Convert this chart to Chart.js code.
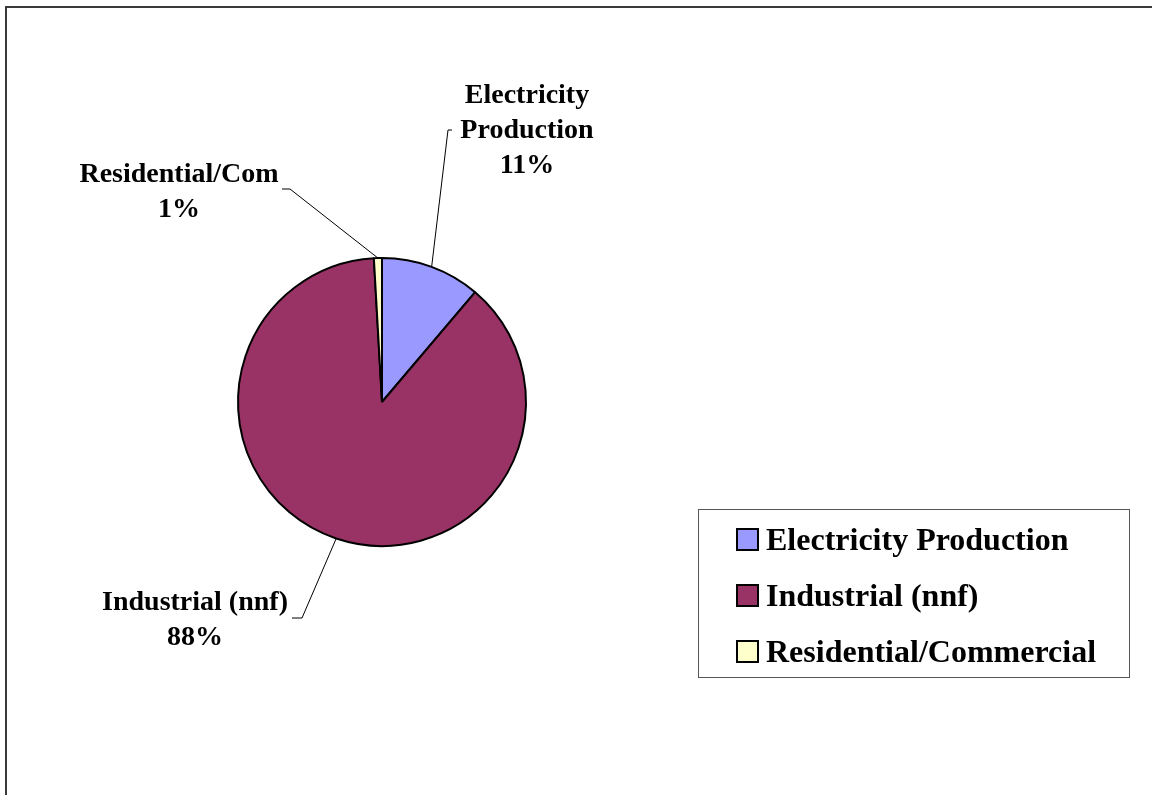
<!DOCTYPE html>
<html>
<head>
  <title>Pie chart</title>
  <script src="https://cdn.jsdelivr.net/npm/chart.js"></script>
  <style>
    body { margin: 0; background: #fff; }
  </style>
</head>
<body>
  <canvas id="chart" width="1152" height="795"></canvas>
  <script>
    // data
    const categories = ['Electricity Production', 'Industrial (nnf)', 'Residential/Commercial'];
    const shortNames = [['Electricity', 'Production'], ['Industrial (nnf)'], ['Residential/Com']];
    const shares = [11.2, 87.9, 0.9];
    const sliceColors = ['#9999FF', '#993366', '#FFFFCC'];

    // where each data label sits, relative to the pie centre (px)
    const labelPlace = [
      { tx: 145, ty: -299, elbow: [66, -272], end: [70, -272] },
      { tx: -187, ty: 208, elbow: [-80, 216], end: [-90, 216] },
      { tx: -203, ty: -220, elbow: [-92, -213], end: [-100, -213] }
    ];

    const serif = '"Liberation Serif", "Times New Roman", serif';

    // frame, data labels with leader lines and the boxed legend
    const decor = {
      id: 'decor',
      beforeDraw(chart) {
        const c = chart.ctx;
        c.save();
        c.strokeStyle = '#3a3a3a';
        c.lineWidth = 2;
        c.beginPath();
        c.moveTo(6, 795);
        c.lineTo(6, 7);
        c.lineTo(1152, 7);
        c.stroke();
        c.restore();
      },
      afterDraw(chart) {
        const c = chart.ctx;
        const arcs = chart.getDatasetMeta(0).data;
        const total = shares.reduce((a, b) => a + b, 0);
        c.save();
        c.font = 'bold 28px ' + serif;
        c.fillStyle = '#000';
        c.textAlign = 'center';
        c.textBaseline = 'alphabetic';
        arcs.forEach((arc, i) => {
          const p = arc.getProps(['x', 'y', 'startAngle', 'endAngle', 'outerRadius'], true);
          const mid = (p.startAngle + p.endAngle) / 2;
          const sx = p.x + Math.cos(mid) * p.outerRadius;
          const sy = p.y + Math.sin(mid) * p.outerRadius;
          const lp = labelPlace[i];
          c.strokeStyle = '#000';
          c.lineWidth = 1;
          c.beginPath();
          c.moveTo(sx, sy);
          c.lineTo(p.x + lp.elbow[0], p.y + lp.elbow[1]);
          c.lineTo(p.x + lp.end[0], p.y + lp.end[1]);
          c.stroke();
          const lines = shortNames[i].concat([Math.round(shares[i] / total * 100) + '%']);
          lines.forEach((t, k) => {
            c.fillText(t, p.x + lp.tx, p.y + lp.ty + k * 35);
          });
        });

        // legend box
        c.strokeStyle = '#555';
        c.lineWidth = 1;
        c.strokeRect(698.5, 509.5, 431, 168);
        c.font = 'bold 32px ' + serif;
        c.textAlign = 'left';
        categories.forEach((name, i) => {
          const y = 529 + i * 56;
          c.fillStyle = sliceColors[i];
          c.fillRect(737, y, 21, 21);
          c.strokeStyle = '#000';
          c.lineWidth = 2;
          c.strokeRect(737, y, 21, 21);
          c.fillStyle = '#000';
          c.fillText(name, 766, y + 21);
        });
        c.restore();
      }
    };

    const ctx = document.getElementById('chart').getContext('2d');
    const chart = new Chart(ctx, {
      type: 'pie',
      data: {
        labels: categories,
        datasets: [{
          data: shares,
          backgroundColor: sliceColors,
          borderColor: '#000',
          borderWidth: 2
        }]
      },
      options: {
        responsive: false,
        animation: false,
        layout: { padding: { left: 237, top: 257, right: 625, bottom: 248 } },
        plugins: {
          legend: { display: false },
          tooltip: { enabled: false }
        }
      },
      plugins: [decor]
    });
  </script>
</body>
</html>
